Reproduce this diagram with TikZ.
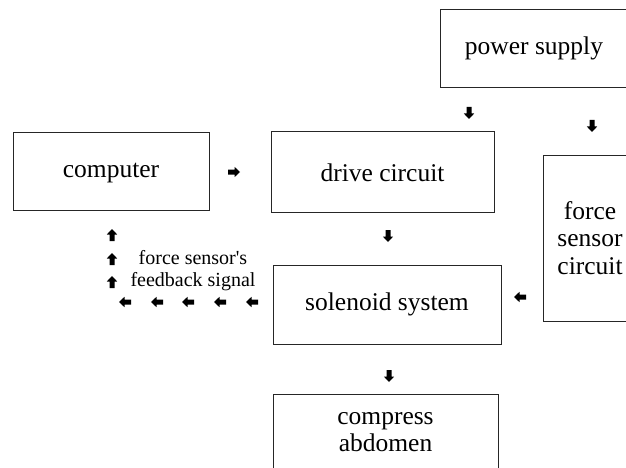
\documentclass[tikz,border=0pt]{standalone}
\usepackage{fontspec}
\setmainfont{Liberation Serif}
\begin{document}
\begin{tikzpicture}[x=1pt,y=-1pt,
  box/.style={draw=black!85,line width=1pt,rectangle,align=center,inner sep=0pt,
    font=\fontsize{25.5}{27.5}\selectfont},
  oneline/.style={text height=17pt,text depth=5.5pt},
  note/.style={align=center,inner sep=0pt,font=\fontsize{20}{22}\selectfont},
  blockarrow/.pic={\fill[black] (-6,-2.5) -- (0.5,-2.5) -- (0.5,-5.2) -- (6,0) -- (0.5,5.2) -- (0.5,2.5) -- (-6,2.5) -- cycle;}]
\useasboundingbox (0,0) rectangle (626,468);
\clip (0,0) rectangle (626,468);
\node[box,oneline,minimum width=188pt,minimum height=78pt] (power) at (534,49) {power supply};
\node[box,oneline,minimum width=196pt,minimum height=77pt] (computer) at (111,171.5) {computer};
\node[box,oneline,text height=25pt,minimum width=223pt,minimum height=80pt] (drive) at (382.5,172) {drive circuit};
\node[box,minimum width=94pt,minimum height=166pt] (sensor) at (590,238) {force\\sensor\\circuit};
\node[box,oneline,minimum width=228pt,minimum height=79pt] (solenoid) at (387,304.5) {solenoid system};
\node[box,minimum width=225pt,minimum height=76pt] (compress) at (385.5,432) {compress\\abdomen};
\node[note] (feedback) at (193,271) {force sensor\textquotesingle s\\feedback signal};
% small block arrows
\pic[rotate=0] at (234,172) {blockarrow};
\pic[rotate=-90] at (469,113) {blockarrow};
\pic[rotate=-90] at (592,126) {blockarrow};
\pic[rotate=-90] at (388,236) {blockarrow};
\pic[rotate=-90] at (389,376) {blockarrow};
\pic[rotate=180] at (520,297) {blockarrow};
\pic[rotate=90] at (112,235) {blockarrow};
\pic[rotate=90] at (112,259) {blockarrow};
\pic[rotate=90] at (112,282) {blockarrow};
\foreach \xx in {125,157,188,220,252}{\pic[rotate=180] at (\xx,302) {blockarrow};}
\end{tikzpicture}
\end{document}
